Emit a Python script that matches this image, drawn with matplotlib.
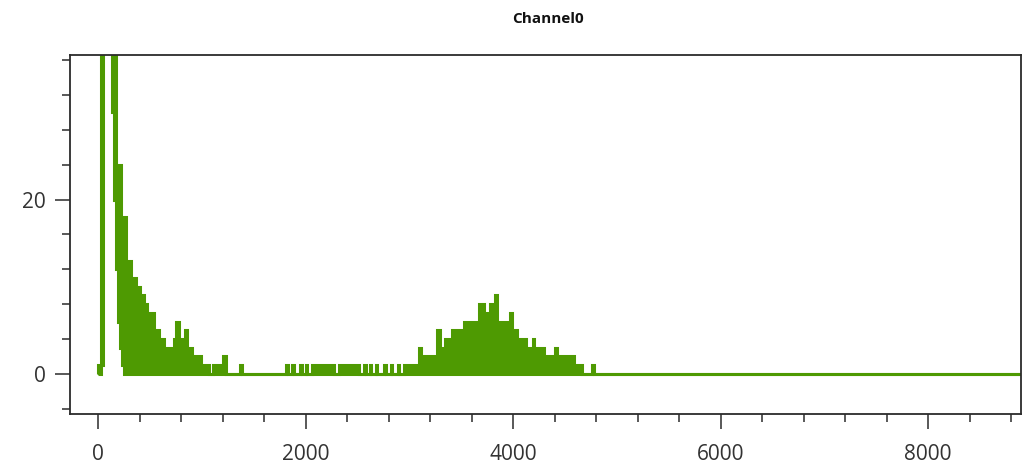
import matplotlib
matplotlib.use("Agg")
import matplotlib.pyplot as plt
from matplotlib.ticker import MultipleLocator
import numpy as np

# Spectrum of Channel0, stored as steps: bin edges plus the upper and
# lower count reached inside each bin (the trace toggles between them).
PEAK = 150  # main peak near zero runs far above the visible range

bin_edges = [0, 25, 50, 135, 155, 170, 190, 210, 217, 230, 250, 266, 314, 362,
             401, 439, 468, 535, 584, 632, 737, 756, 780, 840, 860, 902, 990,
             1066, 1113, 1209, 1230, 1364, 1384, 1812, 1827, 1865, 1885, 1942,
             1962, 2005, 2015, 2058, 2270, 2318, 2511, 2559, 2579, 2617, 2627,
             2680, 2690, 2752, 2772, 2825, 2834, 2892, 2902, 2945, 3089, 3109,
             3272, 3293, 3349, 3407, 3523, 3668, 3717, 3774, 3831, 3842, 3966,
             3987, 4035, 4122, 4188, 4199, 4295, 4400, 4420, 4584, 4661, 4757,
             4777, 9000]

counts_high = [1, PEAK, PEAK, PEAK, PEAK, 24, 24, 24, 18, 18, 18, 13, 11, 10,
               9, 8, 7, 5, 4, 3, 4, 6, 4, 5, 3, 2, 1,
               0, 1, 2, 0, 1, 0, 1, 0, 1, 0, 1,
               0, 1, 0, 1, 0, 1, 0, 1, 0, 1, 0,
               1, 0, 1, 0, 1, 0, 1, 0, 1, 3, 2,
               5, 3, 4, 5, 6, 8, 7, 8, 9, 6, 7,
               5, 4, 3, 4, 3, 2, 3, 2, 1, 0, 1,
               0]

counts_low = [0, 1, PEAK, 30, 20, 12, 6, 3, 3, 1, 0, 0, 0, 0,
              0, 0, 0, 0, 0, 0, 0, 0, 0, 0, 0, 0, 0,
              0, 0, 0, 0, 0, 0, 0, 0, 0, 0, 0,
              0, 0, 0, 0, 0, 0, 0, 0, 0, 0, 0,
              0, 0, 0, 0, 0, 0, 0, 0, 0, 0, 0,
              0, 0, 0, 0, 0, 0, 0, 0, 0, 0, 0,
              0, 0, 0, 0, 0, 0, 0, 0, 0, 0, 0,
              0]

x_major = [0, 2000, 4000, 6000, 8000]
y_major = [0, 20]

GREEN = "#4e9a02"
FRAME = "#2b2b2b"

plt.rcParams["font.family"] = ["Open Sans", "DejaVu Sans"]

fig = plt.figure(figsize=(10.25, 4.74), dpi=100)
ax = fig.add_axes([0.0683, 0.1266, 0.9278, 0.7574])

ax.stairs(np.array(counts_high, float), np.array(bin_edges, float),
          baseline=np.array(counts_low, float), fill=True,
          facecolor=GREEN, edgecolor=GREEN, linewidth=2.2,
          joinstyle="miter")

ax.set_xlim(-270, 8896)
ax.set_ylim(-4.6, 36.6)

ax.set_xticks(x_major)
ax.set_yticks(y_major)
ax.xaxis.set_minor_locator(MultipleLocator(400))
ax.yaxis.set_minor_locator(MultipleLocator(4))

ax.tick_params(axis="both", which="major", direction="out", length=10.5,
               width=1.1, color=FRAME, labelsize=15, labelcolor="#333333")
ax.tick_params(axis="both", which="minor", direction="out", length=5.5,
               width=1.1, color=FRAME)
ax.tick_params(axis="x", which="major", pad=11)
ax.tick_params(axis="y", which="major", pad=7)

for sp in ax.spines.values():
    sp.set_color(FRAME)
    sp.set_linewidth(1.3)

fig.text(548 / 1025, 1 - 19 / 474, "Channel0", ha="center", va="center",
         fontsize=11, fontweight="bold", color="#111111",
         family=["Liberation Sans Narrow", "Open Sans", "DejaVu Sans"])

fig.savefig("out.png", dpi=100)
